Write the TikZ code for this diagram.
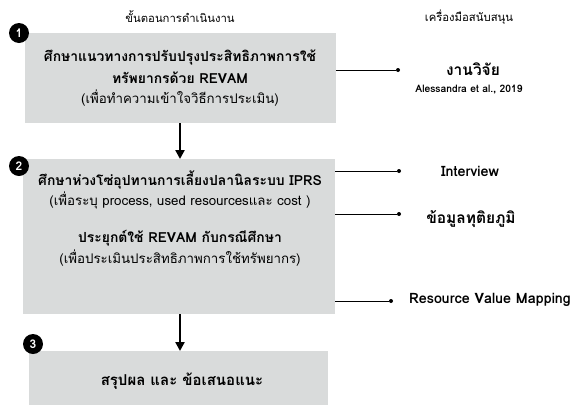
\documentclass[tikz,border=0pt]{standalone}
\usepackage{fontspec}
\setmainfont[Script=Thai]{Loma}
\usetikzlibrary{arrows.meta}
\definecolor{boxgray}{RGB}{217,219,219}
\begin{document}
\begin{tikzpicture}[x=1pt,y=-1pt,
  stepbox/.style={fill=boxgray,draw=none,inner sep=0pt},
  num/.style={circle,fill=black,text=white,inner sep=0pt,minimum size=20pt,font=\bfseries\fontsize{12}{12}\selectfont},
  ttl/.style={font=\bfseries\fontsize{13.9}{15}\selectfont,inner sep=0pt},
  sub/.style={font=\fontsize{13.3}{15}\selectfont,inner sep=0pt},
  hdr/.style={font=\fontsize{11.3}{13}\selectfont,inner sep=0pt},
  tool/.style={font=\bfseries\fontsize{14.3}{16}\selectfont,inner sep=0pt},
  tooltha/.style={font=\bfseries\fontsize{15.5}{17}\selectfont,inner sep=0pt},
  flow/.style={-{Triangle[length=9pt,width=9pt]},line width=2.5pt},
  link/.style={line width=0.7pt},
  dot/.style={circle,fill=black,inner sep=0pt,minimum size=4pt}]
\useasboundingbox (0,0) rectangle (580,405);
% boxes
\node[stepbox,minimum width=311pt,minimum height=90pt,anchor=north west] (b1) at (24.5,33) {};
\node[stepbox,minimum width=312pt,minimum height=155pt,anchor=north west] (b2) at (23,159) {};
\node[stepbox,minimum width=299pt,minimum height=54pt,anchor=north west] (b3) at (29,351) {};
% numbers
\node[num] (n1) at (19,33) {1};
\node[num] (n2) at (19,166) {2};
\node[num] (n3) at (33,344) {3};
% headers
\node[hdr] (h1) at (180,17) {ขั้นตอนการดำเนินงาน};
\node[hdr] (h2) at (469,17) {เครื่องมือสนับสนุน};
% box 1 text
\node[ttl] (t11) at (180,57) {ศึกษาแนวทางการปรับปรุงประสิทธิภาพการใช้};
\node[ttl] (t12) at (180,78) {ทรัพยากรด้วย REVAM};
\node[sub] (t13) at (180,98) {(เพื่อทำความเข้าใจวิธีการประเมิน)};
% box 2 text
\node[ttl] (t21) at (180,180) {ศึกษาห่วงโซ่อุปทานการเลี้ยงปลานิลระบบ IPRS};
\node[sub] (t22) at (180,200) {(เพื่อระบุ process, used resourcesและ cost )};
\node[ttl] (t23) at (180,238) {ประยุกต์ใช้ REVAM กับกรณีศึกษา};
\node[sub] (t24) at (180,258) {(เพื่อประเมินประสิทธิภาพการใช้ทรัพยากร)};
% box 3 text
\node[ttl,font=\bfseries\fontsize{15}{16}\selectfont] (t31) at (182,381) {สรุปผล และ ข้อเสนอแนะ};
% flow arrows
\draw[flow] (b1.south -| 180,0) -- (b2.north -| 180,0);
\draw[flow] (b2.south -| 180,0) -- (b3.north -| 180,0);
% tools
\node[dot] (d1) at (398,70) {};
\node[dot] (d2) at (399,171) {};
\node[dot] (d3) at (399,214) {};
\node[dot] (d4) at (391,301) {};
\draw[link] (b1.east |- d1) -- (d1);
\draw[link] (b2.east |- d2) -- (d2);
\draw[link] (b2.east |- d3) -- (d3);
\draw[link] (b2.east |- d4) -- (d4);
\node[tooltha] (r1) at (473,69) {งานวิจัย};
\node[font=\bfseries\fontsize{10.3}{11}\selectfont,inner sep=0pt] (r1b) at (469,90) {Alessandra et al., 2019};
\node[tool] (r2) at (470,171) {Interview};
\node[tooltha] (r3) at (471,219) {ข้อมูลทุติยภูมิ};
\node[tool] (r4) at (490,300) {Resource Value Mapping};
\end{tikzpicture}
\end{document}
